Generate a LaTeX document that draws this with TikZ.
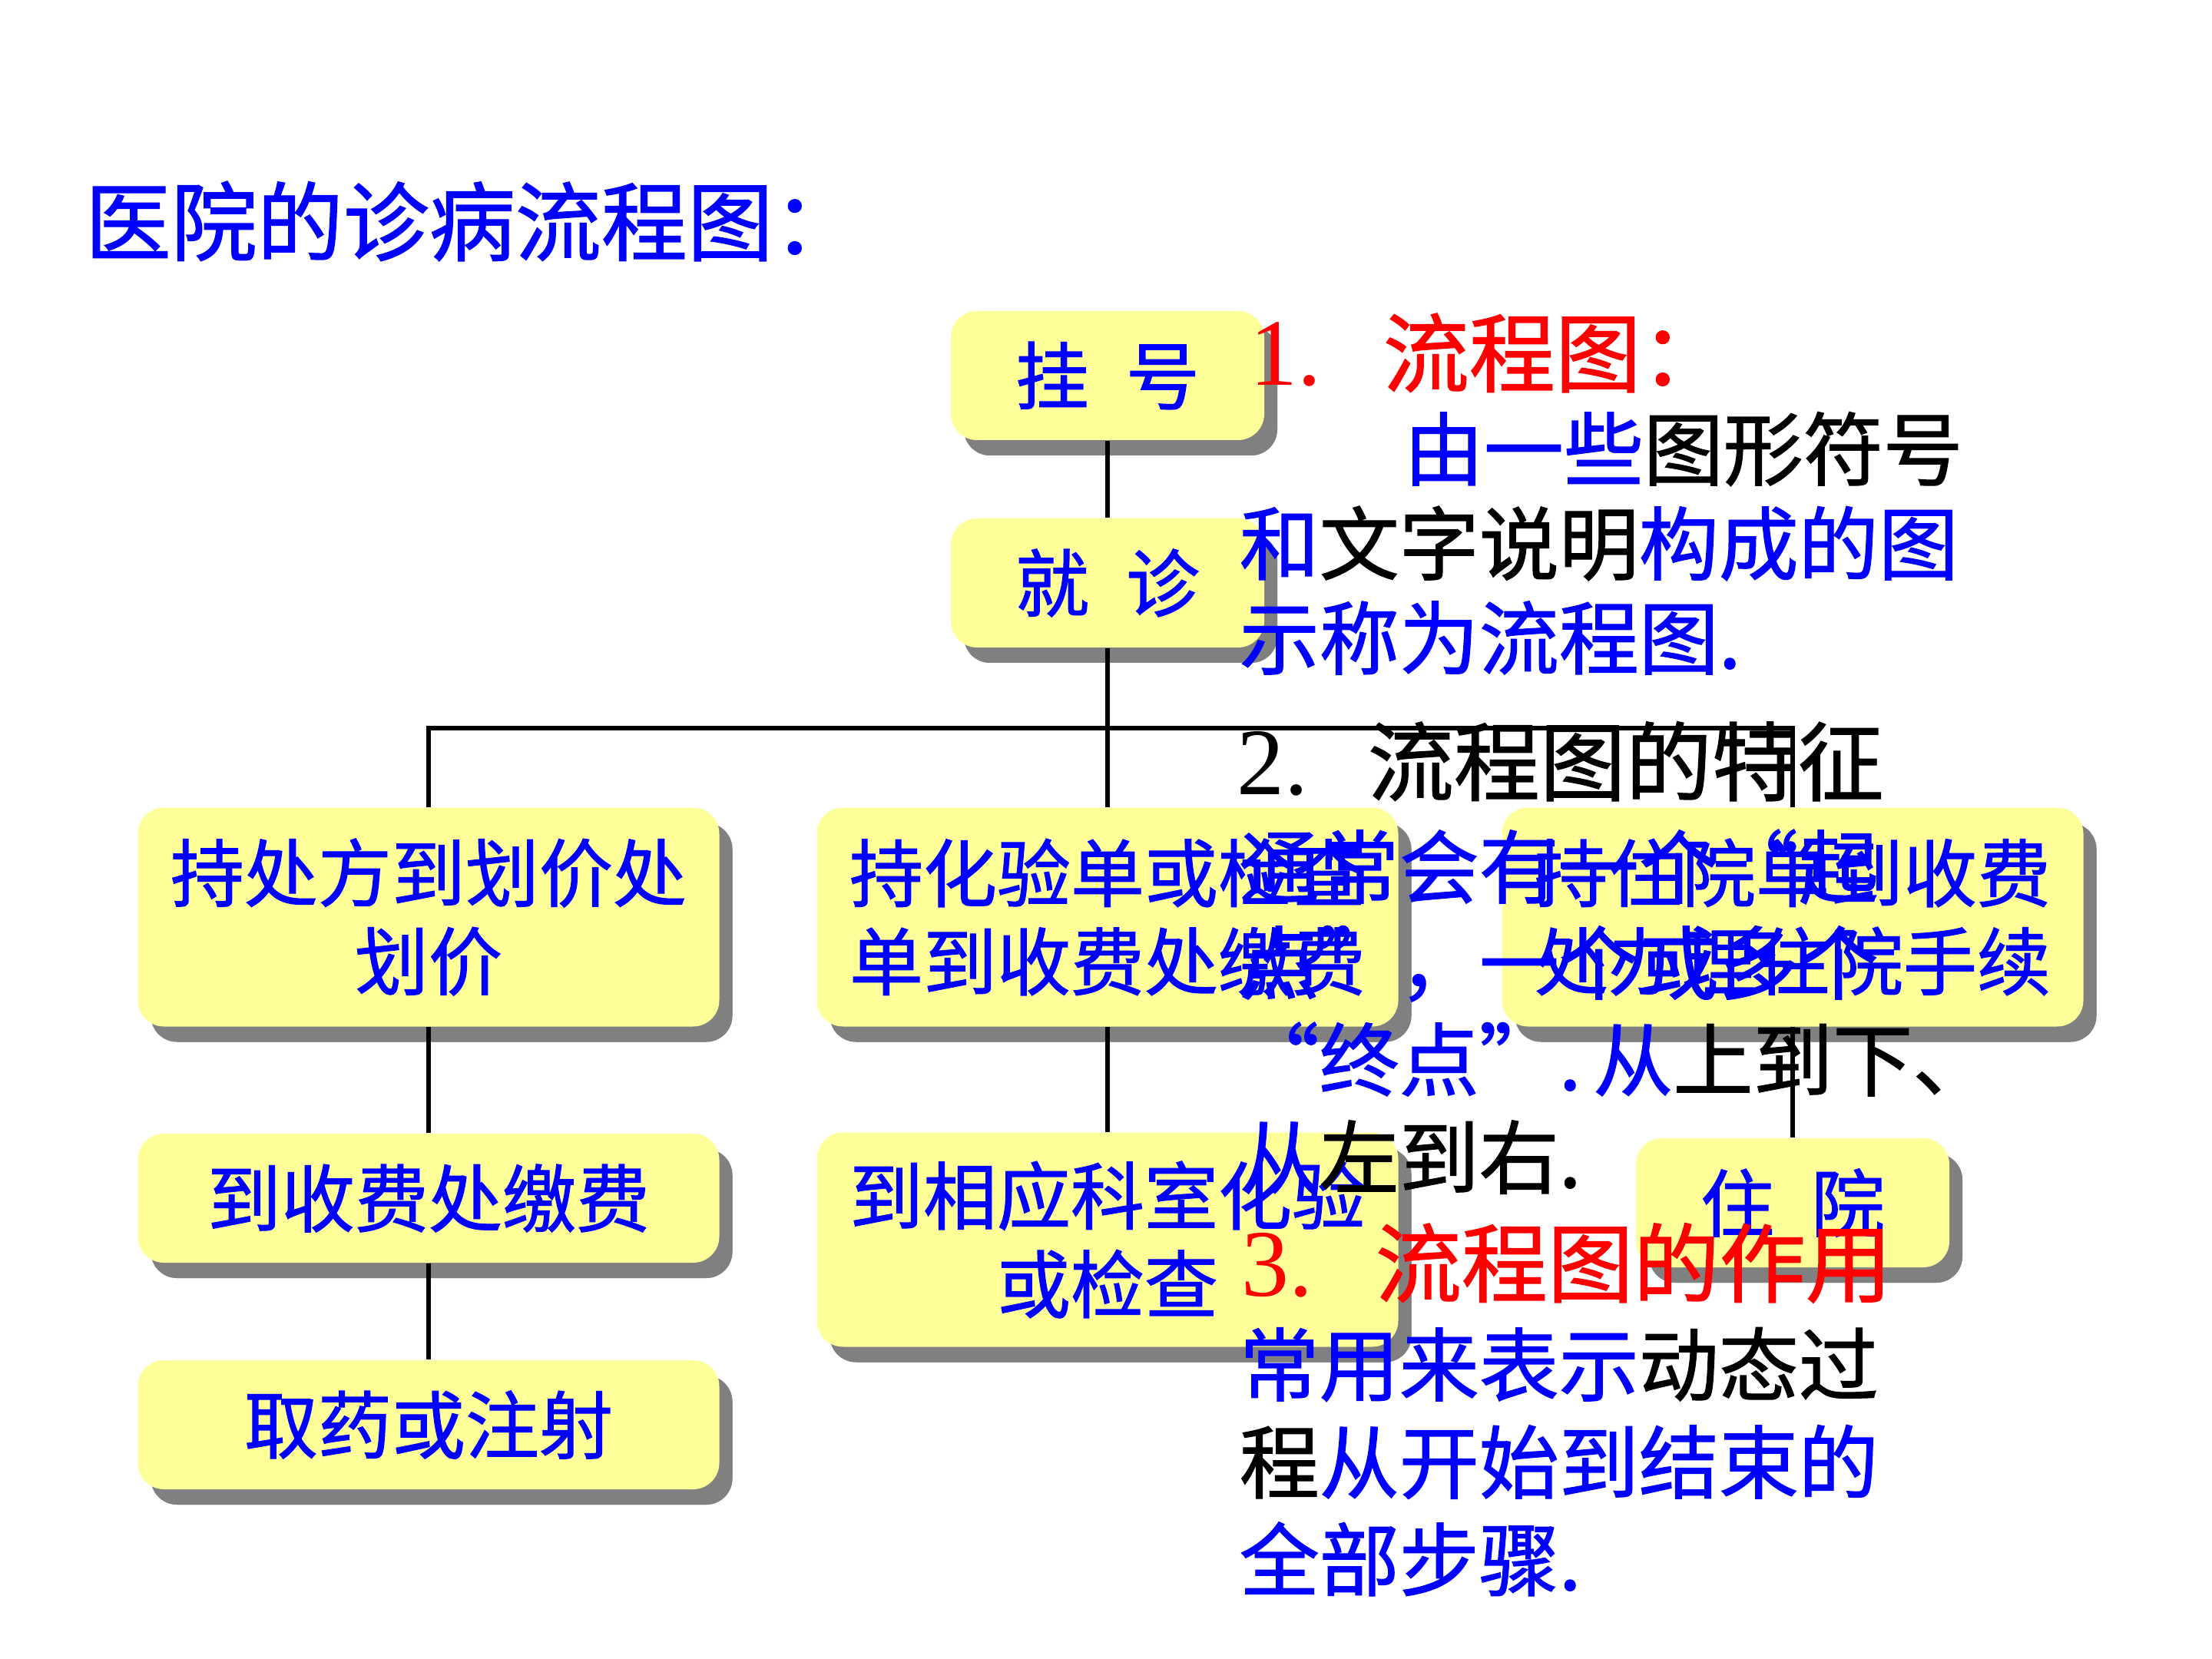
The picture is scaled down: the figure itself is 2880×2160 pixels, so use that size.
\documentclass[tikz,border=0pt]{standalone}
\usepackage{fontspec}
\setmainfont{Noto Sans CJK SC}
\newfontfamily\cjkf{Noto Sans CJK SC}[FakeBold=1.2]
\newfontfamily\digf{Liberation Serif}
\usetikzlibrary{shadows}
\definecolor{boxfill}{HTML}{FFFF99}
\definecolor{shadowgray}{HTML}{808080}
\definecolor{tblue}{HTML}{0000FF}
\definecolor{tred}{HTML}{FF0000}
\newcommand{\numlabel}[2]{\makebox[#1][l]{\digf\fontsize{31}{31}\selectfont #2}}
\begin{document}
\begin{tikzpicture}[x=0.25pt,y=-0.25pt,
  box/.style={rounded corners=8.5pt, fill=boxfill, text=tblue,
    font=\cjkf\fontsize{24}{28.75}\selectfont, align=center, inner sep=0pt,
    general shadow={fill=shadowgray, shadow xshift=4.25pt, shadow yshift=-5pt}},
  wide/.style={box, minimum width=189.25pt},
  narrow/.style={box, minimum width=102pt},
  one/.style={minimum height=42pt},
  two/.style={minimum height=71.25pt},
  conn/.style={line width=1.5pt, draw=black},
  rtext/.style={anchor=base west, inner sep=0pt, font=\cjkf\fontsize{26}{26}\selectfont},
  htext/.style={anchor=base west, inner sep=0pt, font=\cjkf\fontsize{28}{28}\selectfont},
  ttext/.style={anchor=base west, inner sep=0pt, text=tblue, font=\cjkf\fontsize{28}{28}\selectfont},
]
\useasboundingbox (0,0) rectangle (2880,2160);
\fill[white] (0,0) rectangle (2880,2160);

\node[ttext] (title) at (110,331) {医院的诊病流程图：};

% flowchart boxes
\node[box, narrow, one] (gh) at (1442,489) {挂\hspace{0.5em}号};
\node[box, narrow, one] (jz) at (1442,759) {就\hspace{0.5em}诊};
\node[box, wide, two] (b1) at (558,1194) {持处方到划价处\\划价};
\node[box, wide, two] (b2) at (1442,1194) {持化验单或检查\\单到收费处缴费};
\node[box, wide, two] (b3) at (2334,1194) {持住院单到收费\\处办理住院手续};
\node[box, wide, one] (b4) at (558,1560) {到收费处缴费};
\node[box, wide, minimum height=69.75pt] (b5) at (1442,1614) {到相应科室化验\\或检查};
\node[box, narrow, one] (b6) at (2334,1566) {住\hspace{0.5em}院};
\node[box, wide, one] (b7) at (558,1855) {取药或注射};

% connectors
\coordinate (bar) at (1442,948);
\draw[conn] (gh.south) -- (jz.north);
\draw[conn] (jz.south) -- (b2.north);
\draw[conn] (b1.north) -- (b1.north |- bar) -- (b3.north |- bar) -- (b3.north);
\draw[conn] (b1.south) -- (b4.north);
\draw[conn] (b4.south) -- (b7.north);
\draw[conn] (b2.south) -- (b5.north);
\draw[conn] (b3.south) -- (b6.north);

% right column text
\node[htext, text=tred] (t1) at (1627,502) {\numlabel{43.25pt}{1.}流程图：};
\node[rtext] (t2) at (1827,624) {\color{tblue}由一些\color{black}图形符号};
\node[rtext] (t3) at (1613,747) {\color{tblue}和\color{black}文字说明\color{tblue}构成的图};
\node[rtext] (t4) at (1613,870) {\color{tblue}示称为流程图.};
\node[htext] (t5) at (1610,1034) {\numlabel{42.5pt}{2.}流程图的特征};
\node[rtext] (t6) at (1613,1168) {\color{tblue}通常会有一个“起};
\node[rtext] (t7) at (1613,1293) {\color{tblue}点”，一个或多个};
\node[rtext] (t8) at (1613,1419) {\color{tblue}“终点”.\hspace{0.15em}从\color{black}上到下、};
\node[rtext] (t9) at (1613,1546) {\color{tblue}从\color{black}左到右.};
\node[htext, text=tred] (t10) at (1616,1687) {\numlabel{43.5pt}{3.}流程图的作用};
\node[rtext] (t11) at (1613,1816) {\color{tblue}常用来表示\color{black}动态过};
\node[rtext] (t12) at (1613,1943) {程\color{tblue}从开始到结束的};
\node[rtext] (t13) at (1613,2070) {\color{tblue}全部步骤.};
\end{tikzpicture}
\end{document}
